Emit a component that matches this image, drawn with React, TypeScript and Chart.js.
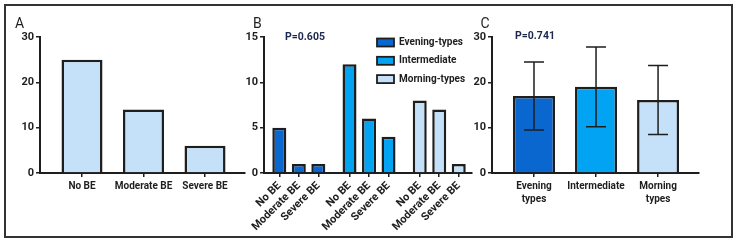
import React, { useEffect, useRef } from "react";
import { Chart, registerables } from "chart.js";

Chart.register(...registerables);

// ---------- Data ----------
const A_CATEGORIES = ["No BE", "Moderate BE", "Severe BE"];
const A_COUNTS = [25, 14, 6];
const A_Y_MAX = 30;
const A_Y_STEP = 10;

const B_GROUPS = ["Evening-types", "Intermediate", "Morning-types"];
const B_CATEGORIES = ["No BE", "Moderate BE", "Severe BE"];
const B_EVENING = [5, 1, 1];
const B_INTERMEDIATE = [12, 6, 4];
const B_MORNING = [8, 7, 1];
const B_Y_MAX = 15;
const B_Y_STEP = 5;
const B_P_LABEL = "P=0.605";

const C_CATEGORIES: (string | string[])[] = [["Evening", "types"], "Intermediate", ["Morning", "types"]];
const C_MEANS = [17, 19, 16.1];
const C_SD = [7.5, 8.8, 7.6];
const C_Y_MAX = 30;
const C_Y_STEP = 10;
const C_P_LABEL = "P=0.741";

// ---------- Style ----------
const INK = "#1e1e1e";
const FONT_FAMILY = "Roboto, 'Liberation Sans', Arial, sans-serif";
const LIGHT = "#c4e1f9";
const GROUP_COLORS = ["#0b67d0", "#02a3f3", "#c4e1f9"];
const P_COLOR = "#1c2750";
const GROUP_STEP = 3.6;

const tickFont = { family: FONT_FAMILY, size: 10, weight: "bold" as const };

function baseX(min: number, max: number, positions: number[], labels: any[], extra: any = {}, fontSize = 10) {
  return {
    type: "linear",
    min,
    max,
    offset: false,
    afterBuildTicks: (s: any) => {
      s.ticks = positions.map((v) => ({ value: v }));
    },
    afterFit: (s: any) => {
      s.height = 69;
    },
    ticks: {
      callback: (_v: any, i: number) => labels[i],
      autoSkip: false,
      maxRotation: 0,
      minRotation: 0,
      font: { ...tickFont, size: fontSize, lineHeight: 1.3 },
      color: INK,
      padding: 3,
      ...extra,
    },
    grid: {
      display: true,
      offset: false,
      drawOnChartArea: false,
      drawTicks: true,
      tickLength: 4,
      tickWidth: 1.5,
      color: INK,
      lineWidth: 1.5,
    },
    border: { display: true, color: INK, width: 2 },
  };
}

function baseY(max: number, step: number, width: number) {
  return {
    type: "linear",
    min: 0,
    max,
    afterFit: (s: any) => {
      s.width = width;
    },
    ticks: { stepSize: step, font: { ...tickFont, size: 11 }, color: INK, padding: 2 },
    grid: {
      display: true,
      drawOnChartArea: false,
      drawTicks: true,
      tickLength: 4,
      tickWidth: 1.5,
      color: INK,
      lineWidth: 1.5,
    },
    border: { display: true, color: INK, width: 2 },
  };
}

const textPlugin = {
  id: "panelText",
  afterDraw(chart: any, _args: any, opts: any) {
    const ctx = chart.ctx;
    ctx.save();
    ctx.textBaseline = "middle";
    for (const t of opts.items || []) {
      ctx.font = t.font;
      ctx.fillStyle = t.color;
      ctx.textAlign = t.align || "left";
      ctx.fillText(t.text, t.x, t.y);
    }
    ctx.restore();
  },
};

const legendPlugin = {
  id: "boxLegend",
  afterDraw(chart: any, _args: any, opts: any) {
    if (!opts.show) return;
    const ctx = chart.ctx;
    ctx.save();
    ctx.textBaseline = "middle";
    ctx.font = `bold 10px ${FONT_FAMILY}`;
    chart.data.datasets.forEach((ds: any, i: number) => {
      const y = opts.y + i * opts.step;
      ctx.fillStyle = ds.backgroundColor;
      ctx.fillRect(opts.x, y - 4, 17, 8);
      ctx.strokeStyle = INK;
      ctx.lineWidth = 1.8;
      ctx.strokeRect(opts.x, y - 4, 17, 8);
      ctx.fillStyle = INK;
      ctx.fillText(ds.label, opts.x + 22, y);
    });
    ctx.restore();
  },
};

const errorBarPlugin = {
  id: "errorBars",
  afterDatasetsDraw(chart: any, _args: any, opts: any) {
    if (!opts.sd) return;
    const ctx = chart.ctx;
    const xs = chart.scales.x;
    const ys = chart.scales.y;
    const ds = chart.data.datasets[0];
    ctx.save();
    ctx.strokeStyle = INK;
    ctx.lineWidth = 1.5;
    ds.data.forEach((p: any, i: number) => {
      const x = xs.getPixelForValue(p.x);
      const top = ys.getPixelForValue(p.y + opts.sd[i]);
      const bot = ys.getPixelForValue(p.y - opts.sd[i]);
      ctx.beginPath();
      ctx.moveTo(x, top);
      ctx.lineTo(x, bot);
      ctx.moveTo(x - 10, top);
      ctx.lineTo(x + 10, top);
      ctx.moveTo(x - 10, bot);
      ctx.lineTo(x + 10, bot);
      ctx.stroke();
    });
    ctx.restore();
  },
};

function Panel({ left, width, config }: { left: number; width: number; config: any }) {
  const ref = useRef<HTMLCanvasElement>(null);
  useEffect(() => {
    const chart = new Chart(ref.current as HTMLCanvasElement, config);
    return () => chart.destroy();
  }, []);
  return (
    <canvas
      ref={ref}
      width={width}
      height={242}
      style={{ position: "absolute", left, top: 0, width, height: 242 }}
    />
  );
}

const commonOptions = (padRight: number, plugins: any) => ({
  animation: false,
  responsive: false,
  maintainAspectRatio: false,
  layout: { padding: { top: 37, right: padRight, bottom: 0, left: 0 } },
  plugins: { legend: { display: false }, tooltip: { enabled: false }, ...plugins },
});

const A_POS = A_CATEGORIES.map((_, i) => i);
const configA = {
  type: "bar",
  data: {
    datasets: [
      {
        data: A_COUNTS.map((y, i) => ({ x: A_POS[i], y })),
        backgroundColor: LIGHT,
        borderColor: INK,
        borderWidth: 2.5,
        grouped: false,
        barPercentage: 0.667,
        categoryPercentage: 1,
      },
    ],
  },
  options: {
    ...commonOptions(5, {
      panelText: { items: [{ text: "A", x: 15, y: 24, font: `14px ${FONT_FAMILY}`, color: INK }] },
    }),
    scales: { x: baseX(-0.683, 2.65, A_POS, A_CATEGORIES), y: baseY(A_Y_MAX, A_Y_STEP, 40) },
  },
  plugins: [textPlugin],
};

const B_SERIES = [B_EVENING, B_INTERMEDIATE, B_MORNING];
const B_POS: number[] = [];
const B_LABELS: string[] = [];
B_GROUPS.forEach((_, g) =>
  B_CATEGORIES.forEach((c, i) => {
    B_POS.push(g * GROUP_STEP + i);
    B_LABELS.push(c);
  })
);
const configB = {
  type: "bar",
  data: {
    datasets: B_SERIES.map((vals, g) => ({
      label: B_GROUPS[g],
      data: vals.map((y, i) => ({ x: g * GROUP_STEP + i, y })),
      backgroundColor: GROUP_COLORS[g],
      borderColor: INK,
      borderWidth: 2.5,
      grouped: false,
      barPercentage: 0.718,
      categoryPercentage: 1,
    })),
  },
  options: {
    ...commonOptions(8, {
      panelText: {
        items: [
          { text: "B", x: 13, y: 24, font: `14px ${FONT_FAMILY}`, color: INK },
          { text: B_P_LABEL, x: 45, y: 37, font: `bold 10.5px ${FONT_FAMILY}`, color: P_COLOR },
        ],
      },
      boxLegend: { show: true, x: 137, y: 42.5, step: 18.3 },
    }),
    scales: {
      x: baseX(-0.785, 9.88, B_POS, B_LABELS, { maxRotation: 45, minRotation: 45, padding: 2 }, 11),
      y: baseY(B_Y_MAX, B_Y_STEP, 24),
    },
  },
  plugins: [textPlugin, legendPlugin],
};

const C_POS = C_CATEGORIES.map((_, i) => i);
const configC = {
  type: "bar",
  data: {
    datasets: [
      {
        data: C_MEANS.map((y, i) => ({ x: C_POS[i], y })),
        backgroundColor: GROUP_COLORS,
        borderColor: INK,
        borderWidth: 2.5,
        grouped: false,
        barPercentage: 0.677,
        categoryPercentage: 1,
      },
    ],
  },
  options: {
    ...commonOptions(39, {
      panelText: {
        items: [
          { text: "C", x: 10.5, y: 24, font: `14px ${FONT_FAMILY}`, color: INK },
          { text: C_P_LABEL, x: 45, y: 36.5, font: `bold 10.5px ${FONT_FAMILY}`, color: P_COLOR },
        ],
      },
      errorBars: { sd: C_SD },
    }),
    scales: { x: baseX(-0.677, 2.66, C_POS, C_CATEGORIES), y: baseY(C_Y_MAX, C_Y_STEP, 22) },
  },
  plugins: [textPlugin, errorBarPlugin],
};

export default function App() {
  return (
    <div
      style={{
        position: "absolute",
        left: 0,
        top: 0,
        width: 738,
        height: 242,
        background: "#fff",
        overflow: "hidden",
      }}
    >
      <div
        style={{
          position: "absolute",
          left: 4,
          top: 4,
          width: 729,
          height: 234,
          boxSizing: "border-box",
          border: "2px solid #333",
        }}
      />
      <Panel left={0} width={250} config={configA} />
      <Panel left={240} width={240} config={configB} />
      <Panel left={470} width={268} config={configC} />
    </div>
  );
}
